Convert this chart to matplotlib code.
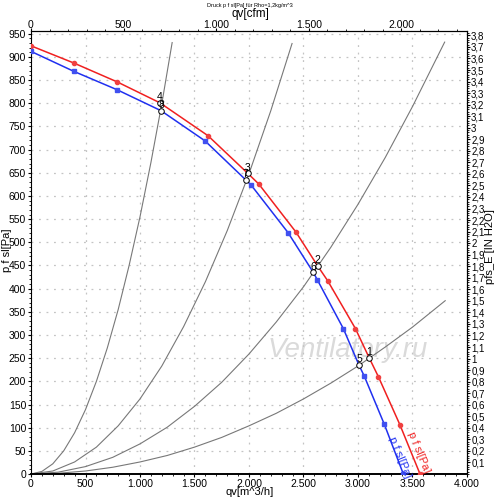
import numpy as np
import matplotlib
matplotlib.use('Agg')
from matplotlib import pyplot as plt
from matplotlib.ticker import MultipleLocator, FixedLocator, FuncFormatter

plt.rcParams['font.family'] = ['Liberation Sans', 'DejaVu Sans']

# fan curves, qv [m^3/h] / p f sl [Pa]
red_q = [0, 392, 792, 1183, 1624, 1988, 2089, 2431, 2630, 2722, 2976, 3104, 3187, 3385, 3569]
red_p = [924, 887, 846, 801, 730, 649, 626, 522, 449, 417, 314, 250, 210, 106, 0]
red_mq = [0, 392, 792, 1624, 2089, 2431, 2722, 2976, 3187, 3385, 3569]
red_mp = [924, 887, 846, 730, 626, 522, 417, 314, 210, 106, 0]

blue_q = [0, 392, 792, 1193, 1596, 1969, 2018, 2358, 2590, 2627, 2865, 3009, 3058, 3242, 3416]
blue_p = [912, 869, 829, 784, 719, 635, 624, 521, 435, 419, 314, 235, 211, 107, 0]
blue_mq = [0, 392, 792, 1596, 2018, 2358, 2627, 2865, 3058, 3242, 3416]
blue_mp = [912, 869, 829, 719, 624, 521, 419, 314, 211, 107, 0]

# system curves
sys4_q = [0, 100, 200, 300, 400, 500, 600, 700, 800, 900, 1000, 1100, 1200, 1295]
sys4_p = [0, 5.6, 22, 50, 89, 139, 200, 272, 355, 450, 555, 672, 799, 931]
sys3_q = [0, 200, 400, 600, 800, 1000, 1200, 1400, 1600, 1800, 2000, 2200, 2395]
sys3_p = [0, 6.5, 26, 58, 104, 162, 233, 318, 415, 525, 648, 784, 929]
sys2_q = [0, 250, 500, 750, 1000, 1250, 1500, 1750, 2000, 2250, 2500, 2750, 3000, 3250, 3500, 3795]
sys2_p = [0, 4, 16, 36, 65, 101, 146, 198, 259, 328, 404, 489, 582, 683, 793, 932]
sys1_q = [0, 250, 500, 750, 1000, 1250, 1500, 1750, 2000, 2250, 2500, 2750, 3000, 3250, 3500, 3800]
sys1_p = [0, 1.6, 6.5, 14.6, 26, 40, 58, 79, 104, 131, 162, 196, 233, 274, 317, 374]

# operating points
op_labels = ['1', '2', '3', '4', '5', '6', '7', '8']
op_q = [3104, 2630, 1988, 1183, 3009, 2590, 1969, 1193]
op_p = [250, 449, 649, 801, 235, 435, 635, 784]

fig = plt.figure(figsize=(5, 5.04), dpi=100)
ax = fig.add_axes([0.062, 0.0595, 0.872, 0.879])

ax.set_xlim(0, 4000)
ax.set_ylim(0, 956)

for sq, sp in [(sys4_q, sys4_p), (sys3_q, sys3_p), (sys2_q, sys2_p), (sys1_q, sys1_p)]:
    ax.plot(sq, sp, color='#787878', lw=0.8, zorder=2)

ax.plot(red_q, red_p, color='#f02020', lw=1.1, zorder=3)
ax.plot(red_mq, red_mp, 'o', color='#f04040', ms=3, zorder=4)
ax.plot(blue_q, blue_p, color='#2030f0', lw=1.1, zorder=3)
ax.plot(blue_mq, blue_mp, 's', color='#4050f0', ms=3, zorder=4)

ax.plot(op_q, op_p, 'o', mfc='white', mec='black', mew=0.7, ms=4, zorder=5)
for lab, q, p in zip(op_labels, op_q, op_p):
    ax.annotate(lab, (q, p), xytext=(0, 0.5), textcoords='offset points',
                ha='center', va='bottom', fontsize=7.5, zorder=6)

ax.text(3385, 37, 'p f sl[Pa]', color='#2030f0', fontsize=8, rotation=-68,
        ha='center', va='center', rotation_mode='anchor', zorder=6)
ax.text(3560, 47, 'p f sl[Pa]', color='#f02020', fontsize=8, rotation=-68,
        ha='center', va='center', rotation_mode='anchor', zorder=6)

ax.text(0.727, 0.28, 'Ventilatory.ru', transform=ax.transAxes, fontsize=20,
        style='italic', color='#dadada', ha='center', va='center', zorder=1)

ax.grid(True, color='#c4c4c4', linestyle=(0, (1.5, 4.5)), linewidth=0.9)
ax.xaxis.set_major_locator(MultipleLocator(500))
ax.xaxis.set_minor_locator(MultipleLocator(100))
ax.yaxis.set_major_locator(MultipleLocator(50))
ax.yaxis.set_minor_locator(MultipleLocator(10))
ax.xaxis.set_major_formatter(FuncFormatter(lambda v, pos: f'{v:,.0f}'.replace(',', '.')))
ax.tick_params(which='both', labelsize=7.5, direction='out', pad=1)
ax.tick_params(which='major', length=2.5)
ax.tick_params(which='minor', length=1.5)
ax.spines['bottom'].set_linewidth(1.4)

top = ax.secondary_xaxis('top', functions=(lambda q: q / 1.699, lambda c: c * 1.699))
top.xaxis.set_major_locator(MultipleLocator(500))
top.xaxis.set_minor_locator(MultipleLocator(100))
top.xaxis.set_major_formatter(FuncFormatter(lambda v, pos: f'{v:,.0f}'.replace(',', '.')))
top.tick_params(which='both', labelsize=7.5, direction='out', pad=-1.5)
top.tick_params(which='major', length=2)
top.tick_params(which='minor', length=1.2)


def inh2o_fmt(v, pos):
    s = f'{v:.1f}'
    if s.endswith('.0'):
        s = s[:-2]
    return s.replace('.', ',')


right = ax.secondary_yaxis('right', functions=(lambda p: p / 249.089, lambda h: h * 249.089))
right.yaxis.set_major_locator(FixedLocator([i / 10 for i in range(1, 39)]))
right.yaxis.set_minor_locator(MultipleLocator(0.02))
right.yaxis.set_major_formatter(FuncFormatter(inh2o_fmt))
right.tick_params(which='both', labelsize=7, direction='out', pad=0.5)
right.tick_params(which='major', length=2.5)
right.tick_params(which='minor', length=1.5)

fig.text(0.5, 1 - 492 / 504, 'qv[m^3/h]', fontsize=8, ha='center', va='center')
fig.text(0.5, 1 - 14.5 / 504, 'qv[cfm]', fontsize=8.5, ha='center', va='center')
fig.text(7 / 500, 1 - 250 / 504, 'p f sl[Pa]', fontsize=8, rotation=90,
         ha='center', va='center')
fig.text(490 / 500, 1 - 247 / 504, 'pfs_E [IN H2O]', fontsize=8, rotation=90,
         ha='center', va='center')
fig.text(0.5, 0.995, 'Druck p f sl[Pa] für Rho=1,2kg/m^3', fontsize=4,
         ha='center', va='top')

plt.savefig('out.png', dpi=100)
